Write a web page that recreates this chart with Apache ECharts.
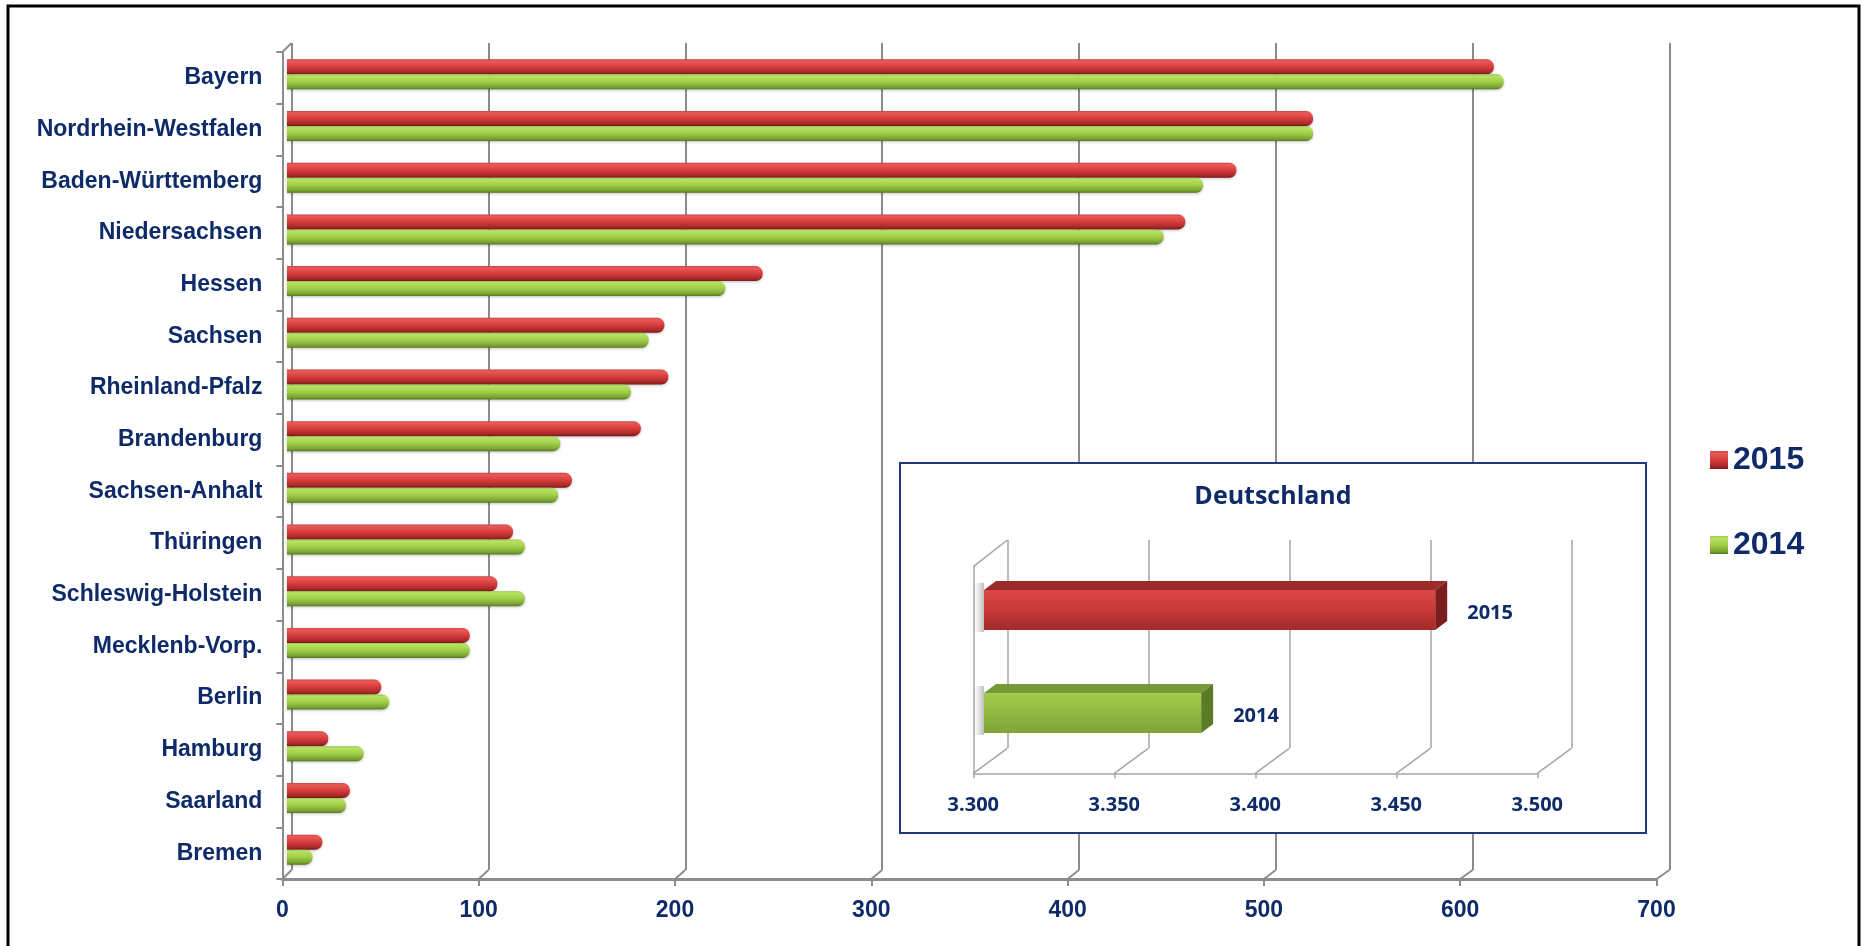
<!DOCTYPE html>
<html>
<head>
<meta charset="utf-8">
<title>Bundesländer 2014 / 2015</title>
<script src="https://cdn.jsdelivr.net/npm/echarts@6/dist/echarts.min.js"></script>
<style>
  html, body { margin: 0; padding: 0; background: #ffffff; }
  #chart { width: 1862px; height: 946px; }
</style>
</head>
<body>
<div id="chart"></div>
<script>
// ---- data -------------------------------------------------------------
const states = [
  'Bayern', 'Nordrhein-Westfalen', 'Baden-Württemberg', 'Niedersachsen',
  'Hessen', 'Sachsen', 'Rheinland-Pfalz', 'Brandenburg', 'Sachsen-Anhalt',
  'Thüringen', 'Schleswig-Holstein', 'Mecklenb-Vorp.', 'Berlin', 'Hamburg',
  'Saarland', 'Bremen'
];
const values2015 = [614, 522, 483, 457, 242, 192, 194, 180, 145, 115, 107, 93, 48, 21, 32, 18];
const values2014 = [619, 522, 466, 446, 223, 184, 175, 139, 138, 121, 121, 93, 52, 39, 30, 13];
const years = ['2015', '2014'];

// Deutschland total
const totalLabels = ['2015', '2014'];
const totalValues = [3460, 3377];

// axis ticks
const stateTicks = [0, 100, 200, 300, 400, 500, 600, 700];
const totalTicks = [3300, 3350, 3400, 3450, 3500];

// ---- styling / layout -------------------------------------------------
const NAVY = '#0e2a68';
const GRID_GRAY = '#8c8c8c';
const FONT = '"Liberation Sans", Arial, sans-serif';
const FONT_INSET = '"Open Sans", "Noto Sans", sans-serif';

// the 3D box: front plane (axes), back wall (grid lines), bars in between
const FRONT = { left: 282.4, top: 52, width: 1374.1, height: 827 };
const BACK  = { left: 291.6, top: 43, width: 1377.9, height: 827 };
const BARS  = { left: 287.0, top: 48.5, width: 1376.0, height: 827 };

// inset panel
const BOX = { x: 900, y: 463, w: 746, h: 370 };
const I_FRONT = { left: 973.3, top: 566.7, width: 564, height: 206.6 };
const I_BACK  = { left: 1007.3, top: 540, width: 564, height: 208.3 };
const I_BARS  = { left: 984, top: 558.5, width: 564, height: 206 };

const lin = (stops) => new echarts.graphic.LinearGradient(0, 0, 0, 1,
  stops.map(([o, c]) => ({ offset: o, color: c })));

const redTube = lin([[0, '#c84646'], [0.12, '#ea5a58'], [0.5, '#d63d3c'], [0.85, '#a82828'], [1, '#781818']]);
const greenTube = lin([[0, '#9ac64a'], [0.12, '#b8e262'], [0.5, '#a0cd48'], [0.85, '#7aa332'], [1, '#56771e']]);

const totalPalette = [
  { front: lin([[0, '#dc4745'], [0.5, '#c63a38'], [1, '#a22b2a']]), top: '#9b2b2b', side: '#7c1e1e' },
  { front: lin([[0, '#a4cd4d'], [0.5, '#91b943'], [1, '#7fa43a']]), top: '#78993a', side: '#5b7b25' }
];

const fmtDe = (v) => String(v).replace(/\B(?=(\d{3})+(?!\d))/g, '.');

const hiddenAxis = { show: false };
const tickMin = (t) => t[0];
const tickMax = (t) => t[t.length - 1];
const tickStep = (t) => t[1] - t[0];

function renderTotal(params, api) {
  const i = params.dataIndex;
  const end = api.coord([api.value(0), api.value(1)]);
  const start = api.coord([tickMin(totalTicks), api.value(1)]);
  const h = 40, dx = 12, dy = 9;
  const x0 = start[0], x1 = end[0], y0 = end[1] - h / 2;
  const pal = totalPalette[i];
  return {
    type: 'group',
    children: [
      { type: 'rect', shape: { x: x0 - 10, y: y0 - dy + 2, width: 10, height: h + dy },
        style: { fill: new echarts.graphic.LinearGradient(0, 0, 1, 0, [
          { offset: 0, color: 'rgba(160,160,160,0)' }, { offset: 1, color: 'rgba(110,110,110,0.45)' }]) } },
      { type: 'polygon', shape: { points: [[x0, y0], [x0 + dx, y0 - dy], [x1 + dx, y0 - dy], [x1, y0]] },
        style: { fill: pal.top } },
      { type: 'polygon', shape: { points: [[x1, y0], [x1 + dx, y0 - dy], [x1 + dx, y0 + h - dy], [x1, y0 + h]] },
        style: { fill: pal.side } },
      { type: 'rect', shape: { x: x0, y: y0, width: x1 - x0, height: h }, style: { fill: pal.front } },
      { type: 'text', style: { x: x1 + 32, y: end[1] + 3, text: totalLabels[i], fill: NAVY,
          font: 'bold 20px ' + FONT_INSET, align: 'left', verticalAlign: 'middle' } }
    ]
  };
}

const option = {
  animation: false,
  backgroundColor: '#ffffff',
  grid: [
    { ...BARS },
    { ...BACK },
    { ...FRONT },
    { ...I_BACK },
    { ...I_FRONT },
    { ...I_BARS }
  ],
  xAxis: [
    { gridIndex: 0, type: 'value', min: tickMin(stateTicks), max: tickMax(stateTicks), ...hiddenAxis },
    { gridIndex: 1, type: 'value', min: tickMin(stateTicks), max: tickMax(stateTicks), interval: tickStep(stateTicks),
      axisLine: { show: false }, axisTick: { show: false }, axisLabel: { show: false },
      splitLine: { show: true, lineStyle: { color: GRID_GRAY, width: 2 } } },
    { gridIndex: 2, type: 'value', min: tickMin(stateTicks), max: tickMax(stateTicks), interval: tickStep(stateTicks),
      axisLine: { show: true, onZero: false, lineStyle: { color: GRID_GRAY, width: 3 } },
      axisTick: { show: true, length: 7, lineStyle: { color: GRID_GRAY, width: 2 } },
      splitLine: { show: false },
      axisLabel: { margin: 20, fontSize: 23, fontWeight: 'bold', color: NAVY, fontFamily: FONT } },
    { gridIndex: 3, type: 'value', min: tickMin(totalTicks), max: tickMax(totalTicks), interval: tickStep(totalTicks), z: 4,
      axisLine: { show: false }, axisTick: { show: false }, axisLabel: { show: false },
      splitLine: { show: true, lineStyle: { color: '#a6a6a6', width: 1.5 } } },
    { gridIndex: 4, type: 'value', min: tickMin(totalTicks), max: tickMax(totalTicks), interval: tickStep(totalTicks), z: 4,
      axisLine: { show: true, onZero: false, lineStyle: { color: '#a6a6a6', width: 1.5 } },
      axisTick: { show: true, length: 5, lineStyle: { color: '#a6a6a6', width: 1.5 } },
      splitLine: { show: false },
      axisLabel: { margin: 22, fontSize: 20, fontWeight: 'bold', color: NAVY, fontFamily: FONT_INSET, formatter: fmtDe } },
    { gridIndex: 5, type: 'value', min: tickMin(totalTicks), max: tickMax(totalTicks), ...hiddenAxis }
  ],
  yAxis: [
    { gridIndex: 0, type: 'category', data: states, inverse: true, ...hiddenAxis },
    { gridIndex: 1, type: 'category', data: states, inverse: true, ...hiddenAxis },
    { gridIndex: 2, type: 'category', data: states, inverse: true,
      axisLine: { show: true, onZero: false, lineStyle: { color: GRID_GRAY, width: 2 } },
      axisTick: { show: true, length: 6, lineStyle: { color: GRID_GRAY, width: 2 } },
      axisLabel: { margin: 20, fontSize: 23, fontWeight: 'bold', color: NAVY, fontFamily: FONT } },
    { gridIndex: 3, type: 'category', data: totalLabels, ...hiddenAxis },
    { gridIndex: 4, type: 'category', data: totalLabels, z: 4,
      axisLine: { show: true, onZero: false, lineStyle: { color: '#a6a6a6', width: 1.5 } },
      axisTick: { show: false }, axisLabel: { show: false } },
    { gridIndex: 5, type: 'category', data: totalLabels, inverse: true, ...hiddenAxis }
  ],
  legend: {
    data: years,
    orient: 'vertical',
    left: 1705,
    top: 437,
    icon: 'rect',
    itemWidth: 18,
    itemHeight: 18,
    itemGap: 49,
    textStyle: { fontSize: 32, fontWeight: 'bold', color: NAVY, fontFamily: FONT, lineHeight: 36 }
  },
  series: [
    { name: years[0], type: 'bar', xAxisIndex: 0, yAxisIndex: 0, data: values2015,
      barWidth: 15, barGap: '0%', z: 2,
      itemStyle: { color: redTube, borderRadius: [0, 7, 7, 0],
        shadowColor: 'rgba(0,0,0,0.25)', shadowBlur: 3, shadowOffsetY: 1 } },
    { name: years[1], type: 'bar', xAxisIndex: 0, yAxisIndex: 0, data: values2014,
      barWidth: 15, barGap: '0%', z: 2,
      itemStyle: { color: greenTube, borderRadius: [0, 7, 7, 0],
        shadowColor: 'rgba(0,0,0,0.25)', shadowBlur: 3, shadowOffsetY: 1 } },
    { name: 'Deutschland', type: 'custom', xAxisIndex: 5, yAxisIndex: 5, z: 6,
      data: totalValues.map((v, i) => [v, i]),
      encode: { x: 0, y: 1 },
      renderItem: renderTotal }
  ]
};

const chart = echarts.init(document.getElementById('chart'), null, { renderer: 'canvas' });
chart.setOption(option);

// 3D box edges: floor diagonals from front axis to back wall, plus wall tops
const graphics = [];
const edge = (x1, y1, x2, y2, color, w, z) => ({
  type: 'line', z, shape: { x1, y1, x2, y2 }, style: { stroke: color, lineWidth: w }
});

const frontBottom = FRONT.top + FRONT.height;
const backBottom = BACK.top + BACK.height;
stateTicks.forEach((v) => {
  const fx = chart.convertToPixel({ xAxisIndex: 2 }, v);
  const bx = chart.convertToPixel({ xAxisIndex: 1 }, v);
  graphics.push(edge(fx, frontBottom, bx, backBottom, GRID_GRAY, 2, 1));
});
graphics.push(edge(FRONT.left, FRONT.top, BACK.left, BACK.top, GRID_GRAY, 2, 1));

// inset panel
graphics.push({ type: 'rect', z: 3, shape: { x: BOX.x, y: BOX.y, width: BOX.w, height: BOX.h },
  style: { fill: '#ffffff', stroke: '#1f3a7a', lineWidth: 2 } });
graphics.push({ type: 'text', z: 7, style: { x: BOX.x + BOX.w / 2, y: 497, text: 'Deutschland',
  fill: NAVY, font: 'bold 25px ' + FONT_INSET, align: 'center', verticalAlign: 'middle' } });

const iFrontBottom = I_FRONT.top + I_FRONT.height;
const iBackBottom = I_BACK.top + I_BACK.height;
totalTicks.forEach((v) => {
  const fx = chart.convertToPixel({ xAxisIndex: 4 }, v);
  const bx = chart.convertToPixel({ xAxisIndex: 3 }, v);
  graphics.push(edge(fx, iFrontBottom, bx, iBackBottom, '#a6a6a6', 1.5, 5));
});
graphics.push(edge(I_FRONT.left, I_FRONT.top, I_BACK.left, I_BACK.top, '#a6a6a6', 1.5, 5));

// outer frame
graphics.push({ type: 'rect', z: 100, shape: { x: 8, y: 6, width: 1851, height: 1000 },
  style: { fill: 'none', stroke: '#000000', lineWidth: 3 } });

chart.setOption({ graphic: graphics });
</script>
</body>
</html>
